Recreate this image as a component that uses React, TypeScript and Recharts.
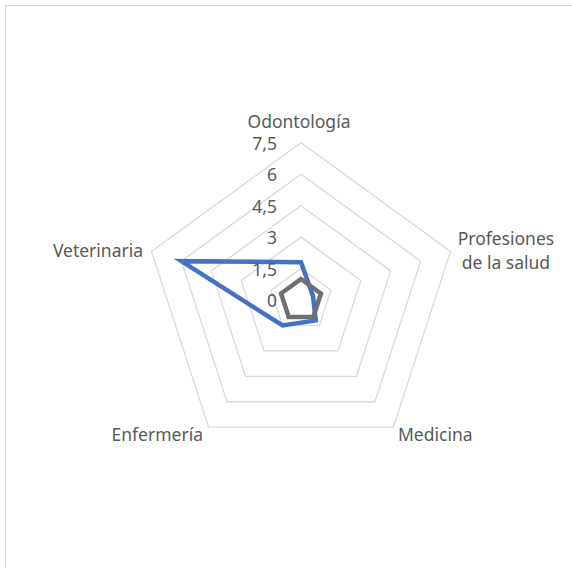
import React from "react";
import {
  RadarChart,
  Radar,
  PolarGrid,
  PolarAngleAxis,
  PolarRadiusAxis,
} from "recharts";

// categories clockwise from the top
const categories = [
  "Odontología",
  "Profesiones\nde la salud",
  "Medicina",
  "Enfermería",
  "Veterinaria",
];
const serieAzul = [1.8, 0.6, 1.2, 1.5, 6.0];
const serieGris = [1, 1, 1, 1, 1];
const radiusTicks = [0, 1.5, 3, 4.5, 6, 7.5];

const data = categories.map((c, i) => ({
  area: c,
  azul: serieAzul[i],
  gris: serieGris[i],
}));

const CX = 301;
const CY = 300;
const textColor = "#595959";
const font = "'Noto Sans', sans-serif";
const fs = 17.5;

function AngleTick(props: any) {
  const { payload, textAnchor } = props;
  // pull the label ~11px back toward the centre
  const vx = props.x - CX;
  const vy = props.y - CY;
  const len = Math.sqrt(vx * vx + vy * vy) || 1;
  const x = props.x - (vx / len) * 10.7;
  const y = props.y - (vy / len) * 10.7;
  const lines = String(payload.value).split("\n");
  if (textAnchor === "middle") {
    return (
      <text x={x - 2} y={y - 7.5} textAnchor="middle" fill={textColor} fontSize={fs} fontFamily={font}>
        {lines[0]}
      </text>
    );
  }
  if (lines.length > 1) {
    return (
      <text x={x + 48} y={y - 4} textAnchor="middle" fill={textColor} fontSize={fs} fontFamily={font}>
        {lines.map((l, i) => (
          <tspan key={i} x={x + 48} dy={i === 0 ? 0 : 24}>
            {l}
          </tspan>
        ))}
      </text>
    );
  }
  return (
    <text x={textAnchor === "end" ? x - 1 : x} y={y + 8} textAnchor={textAnchor} fill={textColor} fontSize={fs} fontFamily={font}>
      {lines[0]}
    </text>
  );
}

function RadiusTick(props: any) {
  const { x, y, payload } = props;
  return (
    <text x={x - 24} y={y + 7} textAnchor="end" fill={textColor} fontSize={fs} fontFamily={font}>
      {String(payload.value).replace(".", ",")}
    </text>
  );
}

export default function App() {
  return (
    <div style={{ position: "fixed", left: 0, top: 0, width: 572, height: 568, overflow: "hidden", background: "#fff" }}>
      <div
        style={{
          position: "absolute",
          left: 5,
          top: 5,
          width: 580,
          height: 580,
          border: "1px solid #d9d9d9",
        }}
      />
      <div style={{ position: "absolute", left: 0, top: 0 }}>
        <RadarChart width={572} height={568} data={data} cx={CX} cy={CY} outerRadius={167.7}>
          <PolarGrid gridType="polygon" radialLines={false} stroke="#d9d9d9" strokeWidth={1.3} />
          <PolarAngleAxis dataKey="area" tick={<AngleTick />} tickLine={false} axisLine={false} />
          <PolarRadiusAxis
            angle={90}
            type="number"
            domain={[0, 7.5]}
            ticks={radiusTicks as any}
            tickCount={11}
            tick={<RadiusTick />}
            axisLine={false}
            tickLine={false}
          />
          <Radar dataKey="azul" stroke="#4472c4" strokeWidth={4.5} fill="none" fillOpacity={0} isAnimationActive={false} />
          <Radar dataKey="gris" stroke="#6f6f6f" strokeWidth={4.5} fill="none" fillOpacity={0} isAnimationActive={false} />
        </RadarChart>
      </div>
    </div>
  );
}
